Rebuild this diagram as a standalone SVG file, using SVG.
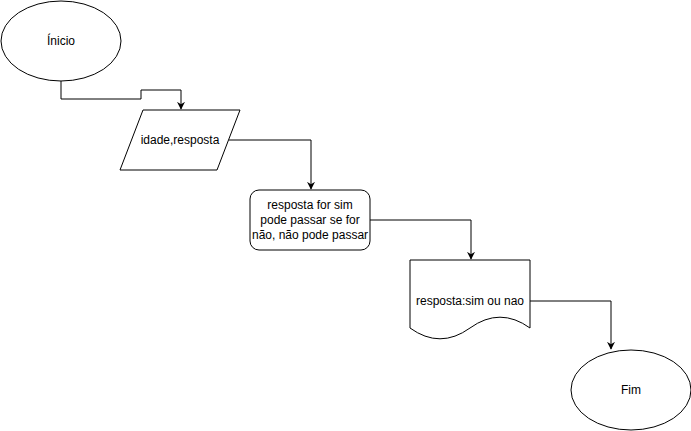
<svg xmlns="http://www.w3.org/2000/svg" width="691" height="431" viewBox="0 0 691 431">
  <style>
    .shape { fill: #ffffff; stroke: #000000; stroke-width: 1; }
    .label { font-family: "Liberation Sans", Arial, sans-serif; font-size: 12px; fill: #000000; text-anchor: middle; dominant-baseline: central; }
    .edge { fill: none; stroke: #000000; stroke-width: 1; marker-end: url(#arrow); }
  </style>
  <defs>
    <marker id="arrow" viewBox="0 0 10 10" refX="9" refY="5" markerWidth="8" markerHeight="8" markerUnits="userSpaceOnUse" orient="auto">
      <path d="M0,0 L10,5 L0,10 L3,5 Z" fill="#000000"/>
    </marker>
  </defs>
  <rect width="691" height="431" fill="#ffffff"/>

  <g id="connectors">
    <path class="edge" d="M61,81 L61,99 L141,99 L141,90 L181,90 L181,109"/>
    <path class="edge" d="M229,140 L311,140 L311,189"/>
    <path class="edge" d="M370,220 L471,220 L471,259"/>
    <path class="edge" d="M530,301 L611,301 L611,349"/>
  </g>

  <g id="inicio">
    <ellipse class="shape" cx="61" cy="41" rx="60" ry="40"/>
    <text class="label" x="61" y="41">Ínicio</text>
  </g>

  <g id="entrada">
    <polygon class="shape" points="143,110 240,110 217,170 120,170"/>
    <text class="label" x="180" y="140">idade,resposta</text>
  </g>

  <g id="processo">
    <rect class="shape" x="250" y="190" width="120" height="60" rx="9" ry="9"/>
    <text class="label" x="310" y="205">resposta for sim</text>
    <text class="label" x="310" y="220">pode passar se for</text>
    <text class="label" x="310" y="235">não, não pode passar</text>
  </g>

  <g id="saida">
    <path class="shape" d="M410,260 L530,260 L530,328 Q500,306.4 470,328 Q440,349.6 410,328 Z"/>
    <text class="label" x="470" y="301">resposta:sim ou nao</text>
  </g>

  <g id="fim">
    <ellipse class="shape" cx="631" cy="390" rx="60" ry="40"/>
    <text class="label" x="631" y="390">Fim</text>
  </g>
</svg>
